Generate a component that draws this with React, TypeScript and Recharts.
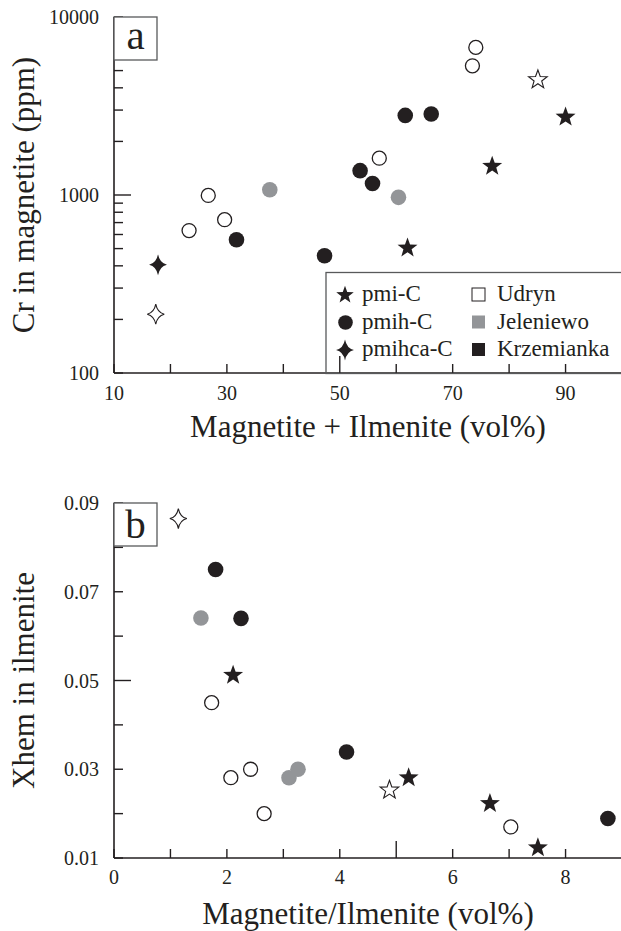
import { ScatterChart, Scatter, XAxis, YAxis, Label } from 'recharts'

const INK = '#231f20'
const GREY = '#939598'
const BOX = '#58595b'
const SERIF = '"Liberation Serif", "Times New Roman", Times, serif'

type Pt = { x: number; y: number }

// (a) Cr in magnetite (ppm) vs Magnetite + Ilmenite (vol%)
const aUdrynCircle: Pt[] = [
  { x: 74.1, y: 6750 }, { x: 73.5, y: 5320 }, { x: 57.0, y: 1610 },
  { x: 26.7, y: 995 }, { x: 29.6, y: 727 }, { x: 23.3, y: 631 },
]
const aJelCircle: Pt[] = [{ x: 37.6, y: 1070 }, { x: 60.4, y: 970 }]
const aKrzCircle: Pt[] = [
  { x: 61.6, y: 2800 }, { x: 66.2, y: 2850 }, { x: 53.6, y: 1370 },
  { x: 55.8, y: 1160 }, { x: 31.7, y: 561 }, { x: 47.3, y: 456 },
]
const aKrzStar: Pt[] = [{ x: 90.0, y: 2740 }, { x: 77.0, y: 1450 }, { x: 62.0, y: 504 }]
const aUdrynStar: Pt[] = [{ x: 85.1, y: 4440 }]
const aKrzSpark: Pt[] = [{ x: 17.8, y: 406 }]
const aUdrynSpark: Pt[] = [{ x: 17.4, y: 214 }]

// (b) Xhem in ilmenite vs Magnetite/Ilmenite (vol%)
const bUdrynCircle: Pt[] = [
  { x: 1.73, y: 0.045 }, { x: 2.07, y: 0.0281 }, { x: 2.42, y: 0.030 },
  { x: 2.66, y: 0.020 }, { x: 7.03, y: 0.017 },
]
const bJelCircle: Pt[] = [{ x: 1.54, y: 0.0641 }, { x: 3.10, y: 0.0281 }, { x: 3.26, y: 0.030 }]
const bKrzCircle: Pt[] = [
  { x: 1.80, y: 0.075 }, { x: 2.25, y: 0.064 }, { x: 4.12, y: 0.0339 }, { x: 8.75, y: 0.0189 },
]
const bKrzStar: Pt[] = [
  { x: 2.11, y: 0.0512 }, { x: 5.22, y: 0.0281 }, { x: 6.66, y: 0.0223 }, { x: 7.51, y: 0.0123 },
]
const bUdrynStar: Pt[] = [{ x: 4.88, y: 0.0253 }]
const bUdrynSpark: Pt[] = [{ x: 1.14, y: 0.0865 }]

// ticks
const aXTicks = [10, 20, 30, 40, 50, 60, 70, 80, 90, 100]
const aXLabels = [10, 30, 50, 70, 90]
const aYTicks = [100, 200, 300, 400, 500, 600, 700, 800, 900, 1000,
  2000, 3000, 4000, 5000, 6000, 7000, 8000, 9000, 10000]
const aYLabels = [100, 1000, 10000]
const bXTicks = [0, 1, 2, 3, 4, 5, 6, 7, 8, 9]
const bXLabels = [0, 2, 4, 6, 8]
const bYTicks = [0.01, 0.02, 0.03, 0.04, 0.05, 0.06, 0.07, 0.08, 0.09]
const bYLabels = [0.01, 0.03, 0.05, 0.07, 0.09]

const rockTypes = ['pmi-C', 'pmih-C', 'pmihca-C']
const localities = ['Udryn', 'Jeleniewo', 'Krzemianka']
const localityFills = ['#ffffff', GREY, INK]

// --- marker paths ---
const starD = (cx: number, cy: number, R: number, r: number) => {
  let d = ''
  for (let i = 0; i < 10; i++) {
    const rad = i % 2 === 0 ? R : r
    const a = -Math.PI / 2 + (i * Math.PI) / 5
    d += (i === 0 ? 'M' : 'L') + (cx + rad * Math.cos(a)).toFixed(2) + ',' + (cy + rad * Math.sin(a)).toFixed(2)
  }
  return d + 'Z'
}

const sparkD = (cx: number, cy: number, R: number) => {
  const k = R * 0.16
  const w = R * 0.85
  return `M${cx},${cy - R} Q${cx + k},${cy - k} ${cx + w},${cy} Q${cx + k},${cy + k} ${cx},${cy + R} ` +
    `Q${cx - k},${cy + k} ${cx - w},${cy} Q${cx - k},${cy - k} ${cx},${cy - R}Z`
}

const filledCircle = (fill: string) => (p: any) => <circle cx={p.cx} cy={p.cy} r={7.8} fill={fill} />
const openCircle = (p: any) => <circle cx={p.cx} cy={p.cy} r={7} fill="#fff" stroke={INK} strokeWidth={1.3} />
const filledStar = (p: any) => <path d={starD(p.cx, p.cy, 10.5, 4.3)} fill={INK} />
const openStar = (p: any) => <path d={starD(p.cx, p.cy, 9.8, 4)} fill="#fff" stroke={INK} strokeWidth={1.1} />
const filledSpark = (p: any) => <path d={sparkD(p.cx, p.cy, 10.5)} fill={INK} />
const openSpark = (p: any) => <path d={sparkD(p.cx, p.cy, 10)} fill="#fff" stroke={INK} strokeWidth={1.1} />

// inward ticks drawn by a custom tick renderer (tickSize 0 => x/y sit on the axis line)
type Side = 'bottom' | 'top' | 'left' | 'right'
function makeTick(side: Side, major: number, labelled: number[], fmt: (v: number) => string, gap: number) {
  return (props: any) => {
    const { x, y, payload } = props
    const v = payload.value
    const len = v === major ? 17 : 9
    const show = labelled.includes(v)
    const txt = { fontFamily: SERIF, fontSize: 20, fill: INK }
    if (side === 'bottom') {
      return (
        <g>
          <line x1={x} y1={y} x2={x} y2={y - len} stroke={INK} strokeWidth={1.4} />
          {show && <text x={x} y={y + gap} textAnchor="middle" {...txt}>{fmt(v)}</text>}
        </g>
      )
    }
    if (side === 'top') return <line x1={x} y1={y} x2={x} y2={y + len} stroke={INK} strokeWidth={1.4} />
    if (side === 'left') {
      return (
        <g>
          <line x1={x} y1={y} x2={x + len} y2={y} stroke={INK} strokeWidth={1.4} />
          {show && <text x={x - gap} y={y} dy="0.35em" textAnchor="end" {...txt}>{fmt(v)}</text>}
        </g>
      )
    }
    return <line x1={x} y1={y} x2={x - len} y2={y} stroke={INK} strokeWidth={1.4} />
  }
}

// dy = distance from the axis line down to the title baseline
const xTitle = (text: string, dy: number) => (props: any) => {
  const vb = props.viewBox
  return (
    <text x={vb.x + vb.width / 2} y={vb.y + dy} textAnchor="middle" fontFamily={SERIF} fontSize={31} fill={INK}>
      {text}
    </text>
  )
}

// rotated title, baseline at x = 34
const yTitle = (text: string) => (props: any) => {
  const vb = props.viewBox
  const bx = 34
  const cy = vb.y + vb.height / 2
  return (
    <text x={bx} y={cy} transform={`rotate(-90 ${bx} ${cy})`} textAnchor="middle"
      fontFamily={SERIF} fontSize={31} fill={INK}>
      {text}
    </text>
  )
}

const axisLine = { stroke: INK, strokeWidth: 1.6 }

function PanelA() {
  return (
    <ScatterChart width={621} height={465} margin={{ top: 17, right: -1, bottom: 0, left: 0 }}>
      <XAxis type="number" dataKey="x" domain={[10, 100]} ticks={aXTicks} interval={0} allowDataOverflow
        height={92} tickSize={0} tickMargin={0} tickLine={false} axisLine={axisLine}
        tick={makeTick('bottom', 50, aXLabels, v => String(v), 27)}>
        <Label content={xTitle('Magnetite + Ilmenite (vol%)', 64)} />
      </XAxis>
      <XAxis xAxisId="top" orientation="top" type="number" domain={[10, 100]} ticks={aXTicks} interval={0}
        height={0} tickSize={0} tickMargin={0} tickLine={false} axisLine={axisLine}
        tick={makeTick('top', 50, [], v => String(v), 0)} />
      <YAxis type="number" dataKey="y" scale="log" domain={[100, 10000]} ticks={aYTicks} interval={0} allowDataOverflow
        width={114} tickSize={0} tickMargin={0} tickLine={false} axisLine={axisLine}
        tick={makeTick('left', 1000, aYLabels, v => String(v), 15)}>
        <Label content={yTitle('Cr in magnetite (ppm)')} />
      </YAxis>
      <YAxis yAxisId="right" orientation="right" type="number" scale="log" domain={[100, 10000]} ticks={aYTicks}
        interval={0} width={0} tickSize={0} tickMargin={0} tickLine={false} axisLine={axisLine}
        tick={makeTick('right', 1000, [], v => String(v), 0)} />
      <Scatter data={aUdrynCircle} shape={openCircle} isAnimationActive={false} />
      <Scatter data={aJelCircle} shape={filledCircle(GREY)} isAnimationActive={false} />
      <Scatter data={aKrzCircle} shape={filledCircle(INK)} isAnimationActive={false} />
      <Scatter data={aKrzStar} shape={filledStar} isAnimationActive={false} />
      <Scatter data={aUdrynStar} shape={openStar} isAnimationActive={false} />
      <Scatter data={aKrzSpark} shape={filledSpark} isAnimationActive={false} />
      <Scatter data={aUdrynSpark} shape={openSpark} isAnimationActive={false} />
    </ScatterChart>
  )
}

function PanelB() {
  return (
    <ScatterChart width={621} height={466} margin={{ top: 38, right: -1, bottom: 0, left: 0 }}>
      <XAxis type="number" dataKey="x" domain={[0, 9]} ticks={bXTicks} interval={0} allowDataOverflow
        height={73} tickSize={0} tickMargin={0} tickLine={false} axisLine={axisLine}
        tick={makeTick('bottom', 5, bXLabels, v => String(v), 26)}>
        <Label content={xTitle('Magnetite/Ilmenite (vol%)', 66)} />
      </XAxis>
      <XAxis xAxisId="top" orientation="top" type="number" domain={[0, 9]} ticks={bXTicks} interval={0}
        height={0} tickSize={0} tickMargin={0} tickLine={false} axisLine={axisLine}
        tick={makeTick('top', 5, [], v => String(v), 0)} />
      <YAxis type="number" dataKey="y" domain={[0.01, 0.09]} ticks={bYTicks} interval={0} allowDataOverflow
        width={114} tickSize={0} tickMargin={0} tickLine={false} axisLine={axisLine}
        tick={makeTick('left', 0.05, bYLabels, v => v.toFixed(2), 15)}>
        <Label content={yTitle('Xhem in ilmenite')} />
      </YAxis>
      <YAxis yAxisId="right" orientation="right" type="number" domain={[0.01, 0.09]} ticks={bYTicks}
        interval={0} width={0} tickSize={0} tickMargin={0} tickLine={false} axisLine={axisLine}
        tick={makeTick('right', 0.05, [], v => String(v), 0)} />
      <Scatter data={bUdrynCircle} shape={openCircle} isAnimationActive={false} />
      <Scatter data={bJelCircle} shape={filledCircle(GREY)} isAnimationActive={false} />
      <Scatter data={bKrzCircle} shape={filledCircle(INK)} isAnimationActive={false} />
      <Scatter data={bKrzStar} shape={filledStar} isAnimationActive={false} />
      <Scatter data={bUdrynStar} shape={openStar} isAnimationActive={false} />
      <Scatter data={bUdrynSpark} shape={openSpark} isAnimationActive={false} />
    </ScatterChart>
  )
}

// panel letters and legend box on top of the charts
function Overlay() {
  const rowY = [301, 328.5, 356]
  const icons = [
    (cy: number) => <path d={starD(345, cy, 9.2, 3.8)} fill={INK} />,
    (cy: number) => <circle cx={345.5} cy={cy} r={7.3} fill={INK} />,
    (cy: number) => <path d={sparkD(345, cy, 10.5)} fill={INK} />,
  ]
  return (
    <svg width={621} height={931} style={{ position: 'absolute', left: 0, top: 0, pointerEvents: 'none' }}>
      <rect x={114} y={17} width={43} height={43} fill="#fff" stroke={BOX} strokeWidth={1.3} />
      <text x={135.5} y={49} textAnchor="middle" fontFamily={SERIF} fontSize={41} fill={INK}>a</text>
      <rect x={114} y={503} width={43} height={43} fill="#fff" stroke={BOX} strokeWidth={1.3} />
      <text x={135.5} y={538} textAnchor="middle" fontFamily={SERIF} fontSize={41} fill={INK}>b</text>

      <rect x={326} y={272.5} width={320} height={101} fill="none" stroke={BOX} strokeWidth={1.3} />
      {rockTypes.map((name, i) => (
        <g key={name}>
          {icons[i](rowY[i] - 6)}
          <text x={362} y={rowY[i]} fontFamily={SERIF} fontSize={23} fill={INK}>{name}</text>
        </g>
      ))}
      {localities.map((name, i) => (
        <g key={name}>
          <rect x={472} y={rowY[i] - 13} width={13} height={13} fill={localityFills[i]}
            stroke={i === 0 ? INK : 'none'} strokeWidth={1} />
          <text x={497} y={rowY[i]} fontFamily={SERIF} fontSize={23} fill={INK}>{name}</text>
        </g>
      ))}
    </svg>
  )
}

export default function App() {
  return (
    <div style={{ position: 'absolute', left: 0, top: 0, width: 621, height: 931, background: '#fff' }}>
      <PanelA />
      <PanelB />
      <Overlay />
    </div>
  )
}
